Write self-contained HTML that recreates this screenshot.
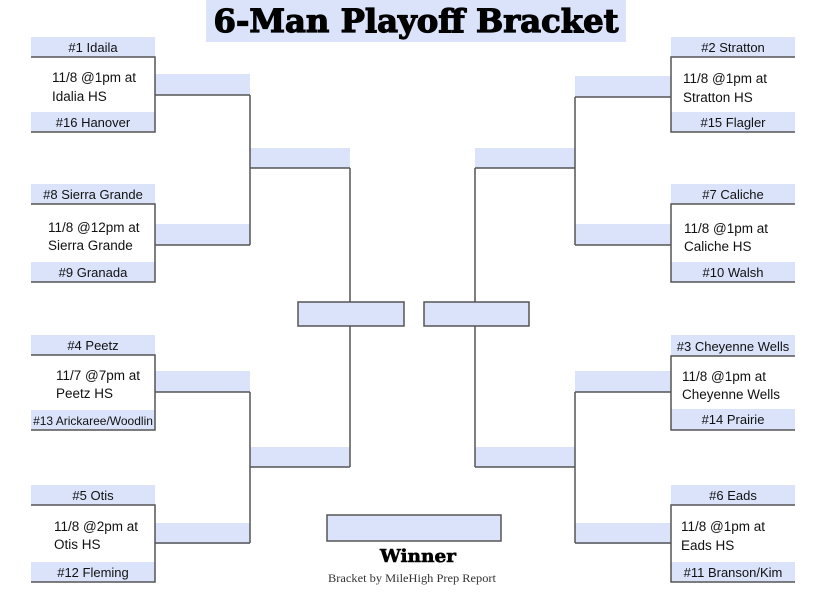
<!DOCTYPE html>
<html><head><style>body{margin:0;background:#fff}svg{display:block}</style></head><body>
<svg width="825" height="607" viewBox="0 0 825 607" xmlns="http://www.w3.org/2000/svg" font-family="Liberation Sans, sans-serif">
<rect x="206" y="0" width="420" height="42" fill="#dae3fa"/>
<text x="416" y="32" text-anchor="middle" font-family="DejaVu Serif, serif" font-weight="900" font-size="32" textLength="405" lengthAdjust="spacingAndGlyphs" stroke="#000" stroke-width="1.2">6-Man Playoff Bracket</text>
<g fill="#dae3fa">
<!-- left labels -->
<rect x="31" y="37" width="124" height="20"/><rect x="31" y="112" width="124" height="20"/>
<rect x="31" y="184" width="124" height="20"/><rect x="31" y="262" width="124" height="20"/>
<rect x="31" y="335" width="124" height="20"/><rect x="31" y="410" width="124" height="20"/>
<rect x="31" y="485" width="124" height="20"/><rect x="31" y="562" width="124" height="20"/>
<rect x="155" y="74" width="95" height="21"/><rect x="155" y="224" width="95" height="21"/>
<rect x="155" y="371" width="95" height="21"/><rect x="155" y="523" width="95" height="21"/>
<rect x="250" y="148" width="100" height="20"/><rect x="250" y="447" width="100" height="20"/>
<!-- right -->
<rect x="671" y="37" width="124" height="20"/><rect x="671" y="112" width="124" height="20"/>
<rect x="671" y="184" width="124" height="20"/><rect x="671" y="262" width="124" height="20"/>
<rect x="671" y="335" width="124" height="21"/><rect x="671" y="409" width="124" height="21"/>
<rect x="671" y="485" width="124" height="20"/><rect x="671" y="562" width="124" height="20"/>
<rect x="575" y="76" width="96" height="21"/><rect x="575" y="224" width="96" height="21"/>
<rect x="575" y="371" width="96" height="21"/><rect x="575" y="523" width="96" height="21"/>
<rect x="475" y="148" width="100" height="20"/><rect x="475" y="447" width="100" height="20"/>
</g>
<g fill="none" stroke="#555" stroke-width="1.5">
<path d="M31 57H155V132H31M31 204H155V282H31M31 355H155V430H31M31 505H155V582H31"/>
<path d="M155 95H250M155 245H250M250 95V245M250 168H350M155 392H250M155 543H250M250 392V543M250 467H350M350 168V467"/>
<path d="M795 57H671V132H795M795 204H671V282H795M795 356H671V430H795M795 505H671V582H795"/>
<path d="M671 97H575M671 245H575M575 97V245M575 168H475M671 392H575M671 543H575M575 392V543M575 467H475M475 168V467"/>
</g>
<g fill="#dae3fa" stroke="#555" stroke-width="1.5">
<rect x="298" y="302" width="106" height="24"/><rect x="424" y="302" width="105" height="24"/>
<rect x="327" y="515" width="174" height="26"/>
</g>
<g font-size="13" fill="#111" text-anchor="middle">
<text x="93" y="52">#1 Idaila</text><text x="93" y="127">#16 Hanover</text>
<text x="93" y="199">#8 Sierra Grande</text><text x="93" y="277">#9 Granada</text>
<text x="93" y="350">#4 Peetz</text><text x="93" y="425" font-size="12">#13 Arickaree/Woodlin</text>
<text x="93" y="500">#5 Otis</text><text x="93" y="577">#12 Fleming</text>
<text x="733" y="52">#2 Stratton</text><text x="733" y="127">#15 Flagler</text>
<text x="733" y="199">#7 Caliche</text><text x="733" y="277">#10 Walsh</text>
<text x="733" y="351">#3 Cheyenne Wells</text><text x="733" y="424">#14 Prairie</text>
<text x="733" y="500">#6 Eads</text><text x="733" y="577">#11 Branson/Kim</text>
</g>
<g font-size="13.5" fill="#111">
<text x="52" y="82">11/8 @1pm at</text><text x="52" y="101">Idalia HS</text>
<text x="48" y="232">11/8 @12pm at</text><text x="48" y="250">Sierra Grande</text>
<text x="56" y="380">11/7 @7pm at</text><text x="56" y="398">Peetz HS</text>
<text x="54" y="531">11/8 @2pm at</text><text x="54" y="549">Otis HS</text>
<text x="683" y="83">11/8 @1pm at</text><text x="683" y="102">Stratton HS</text>
<text x="684" y="233">11/8 @1pm at</text><text x="684" y="251">Caliche HS</text>
<text x="682" y="381">11/8 @1pm at</text><text x="682" y="399">Cheyenne Wells</text>
<text x="681" y="531">11/8 @1pm at</text><text x="681" y="550">Eads HS</text>
</g>
<text x="418" y="562" text-anchor="middle" font-family="DejaVu Serif, serif" font-weight="900" font-size="18" textLength="76" lengthAdjust="spacingAndGlyphs" stroke="#000" stroke-width="0.6">Winner</text>
<text x="412" y="582" text-anchor="middle" font-family="Liberation Serif, serif" font-size="11.5" fill="#333" textLength="168" lengthAdjust="spacingAndGlyphs">Bracket by MileHigh Prep Report</text>
</svg>
</body></html>
